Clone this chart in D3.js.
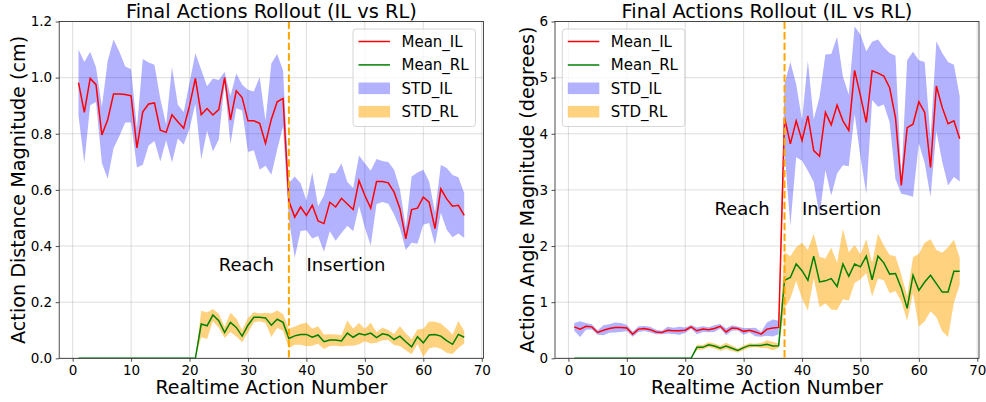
<!DOCTYPE html>
<html>
<head>
<meta charset="utf-8">
<script src="https://cdn.jsdelivr.net/npm/d3@7"></script>
<style>
  body { margin: 0; background: #fff; }
  svg { font-family: "DejaVu Sans", sans-serif; }
</style>
</head>
<body>
<svg id="chart" width="986" height="402"></svg>
<script>
// realtime action number (x axis)
var actionNumber = [1,2,3,4,5,6,7,8,9,10,11,12,13,14,15,16,17,18,19,20,21,22,23,24,25,26,27,28,29,30,
  31,32,33,34,35,36,37,38,39,40,41,42,43,44,45,46,47,48,49,50,51,52,53,54,55,56,57,58,59,60,
  61,62,63,64,65,66,67];

// left panel: action distance magnitude (cm)
var distMeanIL = [0.982,0.876,0.997,0.975,0.796,0.85,0.942,0.942,0.94,0.935,0.75,0.878,0.906,0.91,0.813,
  0.805,0.868,0.843,0.82,0.9,0.997,0.868,0.89,0.867,0.886,1.0,0.849,0.953,0.929,0.846,0.846,0.837,0.766,
  0.852,0.914,0.926,0.56,0.503,0.539,0.509,0.545,0.489,0.48,0.556,0.539,0.57,0.55,0.53,0.633,0.58,0.535,
  0.63,0.63,0.625,0.592,0.533,0.426,0.53,0.535,0.574,0.556,0.462,0.604,0.568,0.542,0.545,0.509];
var distStdIL = [0.118,0.18,0.095,0.062,0.1,0.21,0.194,0.15,0.1,0.095,0.07,0.188,0.148,0.136,0.112,
  0.028,0.17,0.06,0.058,0.082,0.09,0.16,0.079,0.13,0.106,0.02,0.086,0.062,0.046,0.111,0.105,0.165,0.08,
  0.198,0.17,0.1,0.065,0.145,0.085,0.053,0.118,0.053,0.1,0.103,0.12,0.124,0.078,0.077,0.09,0.115,0.133,
  0.08,0.073,0.074,0.08,0.07,0.04,0.118,0.127,0.098,0.074,0.058,0.085,0.11,0.111,0.1,0.08];
var distMeanRL = [0,0,0,0,0,0,0,0,0,0,0,0,0,0,0,0,0,0,0,0,0,0.122,0.116,0.154,0.134,0.092,0.128,0.11,
  0.079,0.118,0.146,0.146,0.144,0.118,0.139,0.128,0.071,0.08,0.085,0.085,0.075,0.083,0.059,0.065,0.065,
  0.062,0.09,0.075,0.088,0.083,0.09,0.074,0.087,0.083,0.067,0.079,0.059,0.041,0.077,0.055,0.083,0.085,
  0.079,0.063,0.05,0.085,0.075];
var distStdRL = [0,0,0,0,0,0,0,0,0,0,0,0,0,0,0,0,0,0,0,0,0,0.047,0.047,0.022,0.025,0.02,0.034,0.032,
  0.022,0.026,0.018,0.014,0.018,0.042,0.031,0.03,0.035,0.032,0.037,0.042,0.03,0.031,0.026,0.021,0.02,
  0.02,0.045,0.03,0.038,0.022,0.037,0.019,0.023,0.018,0.02,0.035,0.03,0.027,0.026,0.05,0.048,0.045,
  0.045,0.043,0.035,0.048,0.022];

// right panel: action angle magnitude (degrees)
var angleMeanIL = [0.56,0.52,0.57,0.56,0.46,0.50,0.53,0.55,0.55,0.54,0.43,0.52,0.53,0.51,0.47,0.46,0.50,
  0.49,0.49,0.50,0.56,0.49,0.52,0.51,0.53,0.57,0.47,0.54,0.53,0.48,0.50,0.47,0.43,0.52,0.54,0.55,
  4.29,3.82,4.23,3.88,4.32,3.70,3.60,4.38,4.16,4.51,4.23,4.06,5.13,4.68,4.20,5.12,5.08,5.03,4.82,4.29,
  3.08,4.11,4.17,4.57,4.38,3.40,4.85,4.47,4.18,4.23,3.91];
var angleStdIL = [0.07,0.14,0.06,0.045,0.04,0.09,0.075,0.09,0.08,0.055,0.045,0.05,0.045,0.05,0.04,0.03,
  0.06,0.055,0.07,0.05,0.035,0.06,0.05,0.045,0.06,0.04,0.06,0.05,0.035,0.06,0.04,0.075,0.045,0.12,0.15,
  0.12,0.6,1.46,0.65,0.36,0.98,0.56,1.06,1.03,1.26,1.22,0.79,0.64,0.78,1.09,1.27,0.52,0.6,0.51,0.62,
  1.1,0.15,1.2,1.29,0.74,0.9,0.52,0.8,0.97,1.1,1.0,0.76];
var angleMeanRL = [0,0,0,0,0,0,0,0,0,0,0,0,0,0,0,0,0,0,0,0,0,0.195,0.195,0.24,0.22,0.18,0.22,0.18,0.14,
  0.19,0.23,0.23,0.23,0.25,0.22,0.225,1.39,1.44,1.68,1.56,1.39,1.82,1.36,1.38,1.42,1.28,1.68,1.46,1.68,
  1.63,1.82,1.40,1.82,1.70,1.50,1.51,1.25,0.89,1.48,1.21,1.36,1.48,1.33,1.18,1.18,1.55,1.55];
var angleStdRL = [0,0,0,0,0,0,0,0,0,0,0,0,0,0,0,0,0,0,0,0,0,0.045,0.04,0.045,0.045,0.045,0.055,0.05,
  0.035,0.04,0.04,0.03,0.045,0.07,0.075,0.04,0.5,0.38,0.3,0.5,0.54,0.4,0.45,0.4,0.55,0.42,0.63,0.43,
  0.34,0.22,0.3,0.3,0.4,0.31,0.34,0.31,0.24,0.22,0.32,0.65,0.7,0.64,0.6,0.7,0.8,0.56,0.24];

var xTicks = [0, 10, 20, 30, 40, 50, 60, 70];
var distTicks = [0, 0.2, 0.4, 0.6, 0.8, 1.0, 1.2];
var angleTicks = [0, 1, 2, 3, 4, 5, 6];
var phaseSplit = 37;
var phaseLabels = [{text: "Reach", x: 25}, {text: "Insertion", x: 40}];
var legendItems = ["Mean_IL", "Mean_RL", "STD_IL", "STD_RL"];

var svg = d3.select("#chart");
var plotTop = 21.5, plotBottom = 358.3;

function drawPanel(p) {
  var x = d3.scaleLinear().domain([-2.3, 70.3]).range([p.left, p.right]);
  var y = d3.scaleLinear().domain([0, p.yMax]).range([plotBottom, plotTop]);
  var g = svg.append("g");

  // grid
  g.selectAll(".gx").data(xTicks).enter().append("line")
    .attr("x1", function(d) { return x(d); }).attr("x2", function(d) { return x(d); })
    .attr("y1", plotTop).attr("y2", plotBottom)
    .attr("stroke", "#b0b0b0").attr("stroke-opacity", 0.55).attr("stroke-width", 0.8);
  g.selectAll(".gy").data(p.yTicks).enter().append("line")
    .attr("x1", p.left).attr("x2", p.right)
    .attr("y1", function(d) { return y(d); }).attr("y2", function(d) { return y(d); })
    .attr("stroke", "#b0b0b0").attr("stroke-opacity", 0.55).attr("stroke-width", 0.8);

  var rows = actionNumber.map(function(n, i) {
    return {n: n, mIL: p.meanIL[i], sIL: p.stdIL[i], mRL: p.meanRL[i], sRL: p.stdRL[i]};
  });

  var band = function(m, s) {
    return d3.area()
      .x(function(d) { return x(d.n); })
      .y0(function(d) { return y(d[m] - d[s]); })
      .y1(function(d) { return y(d[m] + d[s]); });
  };
  var line = function(m) {
    return d3.line().x(function(d) { return x(d.n); }).y(function(d) { return y(d[m]); });
  };

  var clipId = "clip" + p.id;
  svg.append("clipPath").attr("id", clipId).append("rect")
    .attr("x", p.left).attr("y", plotTop).attr("width", p.right - p.left).attr("height", plotBottom - plotTop);
  var plot = g.append("g").attr("clip-path", "url(#" + clipId + ")");

  plot.append("path").datum(rows).attr("d", band("mIL", "sIL"))
    .attr("fill", "#0000ff").attr("fill-opacity", 0.3);
  plot.append("path").datum(rows).attr("d", band("mRL", "sRL"))
    .attr("fill", "#ffa500").attr("fill-opacity", 0.5);
  plot.append("path").datum(rows).attr("d", line("mIL"))
    .attr("fill", "none").attr("stroke", "#ff0000").attr("stroke-width", 1.5);
  plot.append("path").datum(rows).attr("d", line("mRL"))
    .attr("fill", "none").attr("stroke", "#008000").attr("stroke-width", 1.5);

  // phase split
  plot.append("line")
    .attr("x1", x(phaseSplit)).attr("x2", x(phaseSplit))
    .attr("y1", plotTop).attr("y2", plotBottom)
    .attr("stroke", "#ffa500").attr("stroke-width", 2)
    .attr("stroke-dasharray", "7.4,3.2");

  g.selectAll(".phase").data(phaseLabels).enter().append("text")
    .attr("x", function(d) { return x(d.x); })
    .attr("y", y(p.labelY))
    .attr("font-size", "18px")
    .attr("fill", "#000")
    .text(function(d) { return d.text; });

  // frame
  g.append("rect")
    .attr("x", p.left).attr("y", plotTop).attr("width", p.right - p.left).attr("height", plotBottom - plotTop)
    .attr("fill", "none").attr("stroke", "#222").attr("stroke-width", 0.8);

  // axes
  var xAxis = d3.axisBottom(x).tickValues(xTicks).tickSize(3.5).tickPadding(3.5).tickFormat(d3.format("d"));
  var yAxis = d3.axisLeft(y).tickValues(p.yTicks).tickSize(3.5).tickPadding(3.5).tickFormat(p.fmt);
  var gx = g.append("g").attr("transform", "translate(0," + plotBottom + ")").call(xAxis);
  var gy = g.append("g").attr("transform", "translate(" + p.left + ",0)").call(yAxis);
  [gx, gy].forEach(function(a) {
    a.select(".domain").remove();
    a.selectAll(".tick line").attr("stroke", "#222").attr("stroke-width", 0.8);
    a.selectAll(".tick text").attr("font-size", "13.5px").attr("fill", "#000")
      .attr("font-family", "DejaVu Sans, sans-serif");
  });

  // titles
  g.append("text").attr("x", (p.left + p.right) / 2).attr("y", 18.3)
    .attr("text-anchor", "middle").attr("font-size", "19.4px").text("Final Actions Rollout (IL vs RL)");
  g.append("text").attr("x", (p.left + p.right) / 2).attr("y", 394)
    .attr("text-anchor", "middle").attr("font-size", "19px").text("Realtime Action Number");
  g.append("text")
    .attr("transform", "translate(" + p.yLabelX + "," + ((plotTop + plotBottom) / 2) + ") rotate(-90)")
    .attr("text-anchor", "middle").attr("dominant-baseline", "central")
    .attr("font-size", "19.2px").text(p.yLabel);

  // legend
  var lg = g.append("g").attr("transform", "translate(" + p.legendX + "," + (plotTop + 7.5) + ")");
  lg.append("rect").attr("width", 122.5).attr("height", 97.5).attr("rx", 3)
    .attr("fill", "#fff").attr("fill-opacity", 0.8)
    .attr("stroke", "#cccccc").attr("stroke-width", 0.8);
  var styles = [
    {type: "line", color: "#ff0000"},
    {type: "line", color: "#008000"},
    {type: "patch", color: "#0000ff", op: 0.3},
    {type: "patch", color: "#ffa500", op: 0.5}
  ];
  legendItems.forEach(function(name, i) {
    var cy = 12.5 + i * 23.4;
    var s = styles[i];
    if (s.type === "line") {
      lg.append("line").attr("x1", 5.5).attr("x2", 37).attr("y1", cy).attr("y2", cy)
        .attr("stroke", s.color).attr("stroke-width", 1.5);
    } else {
      lg.append("rect").attr("x", 5.5).attr("y", cy - 5.8).attr("width", 31.5).attr("height", 11.6)
        .attr("fill", s.color).attr("fill-opacity", s.op);
    }
    lg.append("text").attr("x", 48.5).attr("y", cy + 5.4).attr("font-size", "15px").text(name);
  });
}

drawPanel({
  id: "L", left: 59.2, right: 483.5, yMax: 1.2, yTicks: distTicks, fmt: d3.format(".1f"),
  meanIL: distMeanIL, stdIL: distStdIL, meanRL: distMeanRL, stdRL: distStdRL,
  labelY: 0.31, yLabel: "Action Distance Magnitude (cm)", yLabelX: 18.4, legendX: 353
});
drawPanel({
  id: "R", left: 555, right: 979, yMax: 6, yTicks: angleTicks, fmt: d3.format("d"),
  meanIL: angleMeanIL, stdIL: angleStdIL, meanRL: angleMeanRL, stdRL: angleStdRL,
  labelY: 2.56, yLabel: "Action Angle Magnitude (degrees)", yLabelX: 527, legendX: 562.3
});
</script>
</body>
</html>
